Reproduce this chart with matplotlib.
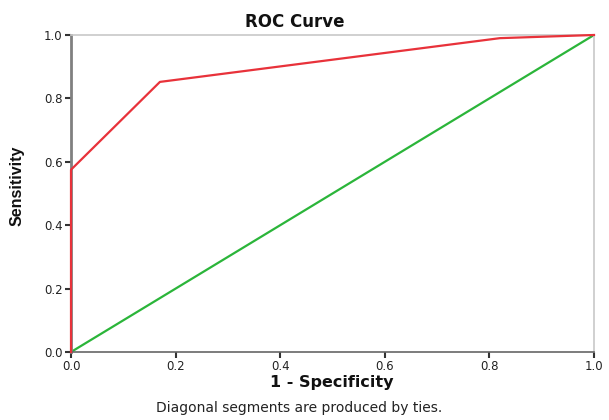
import matplotlib
matplotlib.use("Agg")
import matplotlib.pyplot as plt

# ROC curve points
fpr = [0.0, 0.0, 0.17, 0.82, 1.0]
tpr = [0.0, 0.575, 0.852, 0.99, 1.0]
ref_x = [0.0, 1.0]
ref_y = [0.0, 1.0]
ticks = [0.0, 0.2, 0.4, 0.6, 0.8, 1.0]

plt.rcParams['font.family'] = ['DejaVu Sans']

fig = plt.figure(figsize=(6.09, 4.2), dpi=100)
ax = fig.add_axes([0.1166, 0.1619, 0.8588, 0.7548])

ax.plot(ref_x, ref_y, color='#2bb53a', lw=1.6, zorder=2)
ax.plot(fpr, tpr, color='#e8323a', lw=1.6, zorder=3, clip_on=False)

ax.set_xlim(0, 1)
ax.set_ylim(0, 1)
ax.set_xticks(ticks)
ax.set_yticks(ticks)
ax.set_xticklabels([f"{t:.1f}" for t in ticks])
ax.set_yticklabels([f"{t:.1f}" for t in ticks])
ax.tick_params(direction='out', length=4, width=1.5, color='#333333',
               labelsize=8.5, labelcolor='#222222', pad=2)

for side in ['top', 'right']:
    ax.spines[side].set_color('#c8c8c8')
    ax.spines[side].set_linewidth(1.2)
ax.spines['left'].set_color('#808080')
ax.spines['left'].set_linewidth(2.0)
ax.spines['bottom'].set_color('#666666')
ax.spines['bottom'].set_linewidth(1.2)

fig.text(295 / 609, 1 - 22 / 420, "ROC Curve", ha='center', va='center',
         fontsize=12, fontweight='bold', color='#111111')
fig.text(332 / 609, 1 - 383 / 420, "1 - Specificity", ha='center', va='center',
         fontsize=11.5, fontweight='bold', color='#111111')
fig.text(17 / 609, 1 - 186 / 420, "Sensitivity", ha='center', va='center',
         rotation=90, fontsize=11.5, fontweight='bold', color='#111111',
         family='Liberation Sans')
fig.text(299 / 609, 1 - 408 / 420, "Diagonal segments are produced by ties.",
         ha='center', va='center', fontsize=10, color='#222222')

fig.savefig("out.png", dpi=100)
